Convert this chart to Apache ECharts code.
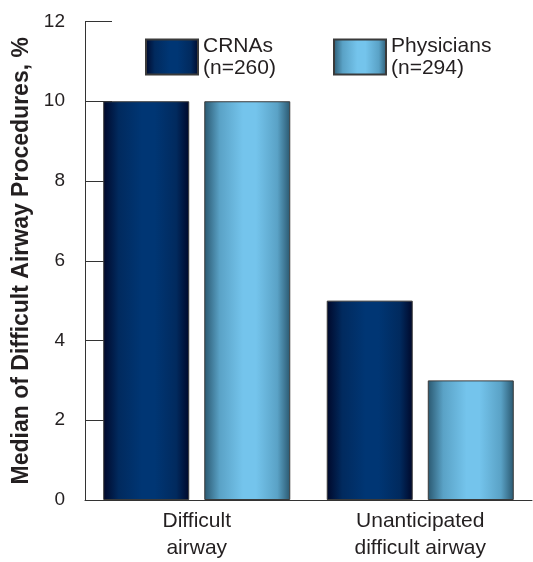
<!DOCTYPE html>
<html>
<head>
<meta charset="utf-8">
<script src="https://cdn.jsdelivr.net/npm/echarts@6/dist/echarts.min.js"></script>
<style>
  html, body { margin: 0; padding: 0; background: #fff; }
  #chart { width: 533px; height: 562px; }
</style>
</head>
<body>
<div id="chart"></div>
<script>
// Median share of procedures involving a difficult airway, by provider type
const categories = ['Difficult\nairway', 'Unanticipated\ndifficult airway'];
const crnaValues = [10, 5];
const physicianValues = [10, 3];
const seriesNames = ['CRNAs\n(n=260)', 'Physicians\n(n=294)'];
const yTicks = { min: 0, max: 12, interval: 2 };

const FONT = '"Liberation Sans", Arial, Helvetica, sans-serif';
const INK = '#231f20';

// Horizontal "cylinder" shading: dark edges, bright centre
function cylinder(edge, mid, centre) {
  return new echarts.graphic.LinearGradient(0, 0, 1, 0, [
    { offset: 0, color: edge },
    { offset: 0.18, color: mid },
    { offset: 0.45, color: centre },
    { offset: 0.6, color: centre },
    { offset: 0.85, color: mid },
    { offset: 1, color: edge }
  ]);
}
const crnaFill = cylinder('#00082a', '#012a5e', '#003674');
const physFill = cylinder('#2a5870', '#5aa2c6', '#74c4ec');

const chart = echarts.init(document.getElementById('chart'), null, { renderer: 'canvas' });

const legendText = { fontFamily: FONT, fontSize: 21, color: INK, lineHeight: 22 };

chart.setOption({
  animation: false,
  backgroundColor: '#ffffff',
  grid: { left: 85, right: 1, top: 21.5, bottom: 58.7, containLabel: false },
  legend: [
    {
      data: [{ name: seriesNames[0], icon: 'rect' }], left: 145, top: 35,
      itemWidth: 52, itemHeight: 35, itemGap: 0, padding: 0,
      textStyle: legendText, selectedMode: false
    },
    {
      data: [{ name: seriesNames[1], icon: 'rect' }], left: 333, top: 35,
      itemWidth: 52, itemHeight: 35, itemGap: 0, padding: 0,
      textStyle: legendText, selectedMode: false
    }
  ],
  xAxis: {
    type: 'category',
    data: categories,
    axisLine: { lineStyle: { color: '#333', width: 1 } },
    axisTick: { inside: true, length: 10, alignWithLabel: false, lineStyle: { color: '#333' } },
    axisLabel: {
      fontFamily: FONT, fontSize: 21, color: INK, lineHeight: 27, margin: 8
    }
  },
  yAxis: {
    type: 'value',
    min: yTicks.min, max: yTicks.max, interval: yTicks.interval,
    name: 'Median of Difficult Airway Procedures, %',
    nameLocation: 'middle',
    nameGap: 52,
    nameTextStyle: { fontFamily: FONT, fontSize: 23, fontWeight: 'bold', color: INK },
    axisLine: { show: true, lineStyle: { color: '#333', width: 1 } },
    axisTick: { show: true, inside: true, length: 27, lineStyle: { color: '#333' } },
    splitLine: { show: false },
    axisLabel: { fontFamily: FONT, fontSize: 19, color: INK, margin: 20 }
  },
  series: [
    {
      name: seriesNames[0], type: 'bar', data: crnaValues,
      barWidth: 86, barGap: '17.5%',
      itemStyle: { color: crnaFill, borderColor: '#3a3a3a', borderWidth: 1 }
    },
    {
      name: seriesNames[1], type: 'bar', data: physicianValues,
      barWidth: 86,
      itemStyle: { color: physFill, borderColor: '#3a3a3a', borderWidth: 1 }
    }
  ]
});
</script>
</body>
</html>
